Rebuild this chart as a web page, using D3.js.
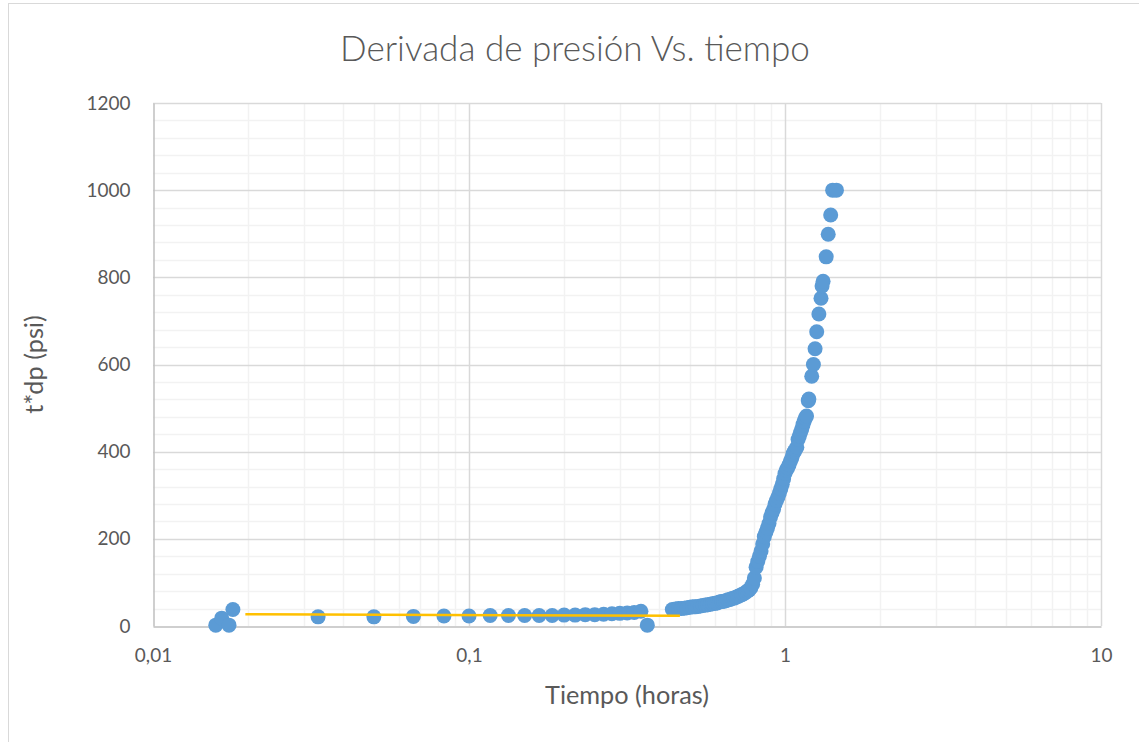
<!DOCTYPE html>
<html>
<head>
<meta charset="utf-8">
<script src="https://cdn.jsdelivr.net/npm/d3@7"></script>
<style>
  html, body { margin: 0; padding: 0; background: #ffffff; }
  svg { display: block; }
  text { font-family: Lato, "Noto Sans", sans-serif; fill: #595959; }
</style>
</head>
<body>
<svg id="chart" width="1139" height="742"></svg>
<script>
// Pressure-derivative measurements: elapsed time (hours) and t*dp (psi)
const timeHours = [
  0.0158, 0.0165, 0.0174, 0.0179,
  0.0333, 0.05, 0.0667, 0.0833, 0.1, 0.1167, 0.1333, 0.15, 0.1667, 0.1833,
  0.2, 0.2167, 0.2333, 0.25, 0.2667, 0.2833, 0.3, 0.3167, 0.3333, 0.35, 0.3667,
  0.44, 0.45, 0.46, 0.47, 0.48, 0.49, 0.50, 0.51, 0.52, 0.53, 0.54, 0.55, 0.56,
  0.57, 0.58, 0.59, 0.60, 0.61, 0.62, 0.63, 0.64, 0.65, 0.66, 0.67, 0.68, 0.69,
  0.70, 0.71, 0.72, 0.73, 0.74, 0.75, 0.76, 0.77, 0.78, 0.79, 0.80,
  0.81, 0.82, 0.83, 0.84, 0.85, 0.86, 0.87, 0.88, 0.89, 0.90, 0.91, 0.92,
  0.93, 0.94, 0.95, 0.96, 0.97, 0.98, 0.99, 1.00, 1.01, 1.02, 1.03, 1.04,
  1.05, 1.06, 1.07, 1.08, 1.09, 1.10, 1.11, 1.12, 1.13, 1.14, 1.15, 1.16, 1.17,
  1.185, 1.19, 1.215, 1.23, 1.245, 1.26, 1.28, 1.30, 1.31, 1.32, 1.35, 1.37,
  1.395, 1.415, 1.455
];
const derivPsi = [
  2, 18, 2, 38,
  21, 21, 22, 23, 23, 24, 24, 24, 24, 24,
  25, 25, 26, 26, 27, 28, 29, 30, 31, 34, 2,
  38, 39, 40, 40, 41, 42, 43, 44, 44, 45, 46, 47, 48,
  49, 50, 51, 52, 53, 55, 56, 57, 58, 60, 61, 63, 64,
  66, 68, 70, 72, 74, 77, 80, 83, 88, 96, 110,
  135, 148, 160, 172, 188, 205, 215, 225, 235, 250, 260, 268,
  280, 288, 296, 305, 315, 325, 338, 350, 358, 363, 370, 378,
  385, 395, 400, 405, 410, 428, 436, 444, 452, 462, 470, 477, 482,
  517, 521, 573, 600, 636, 675, 716, 752, 780, 791, 847, 899,
  943, 1000, 1000
];

// Straight reference line across the radial-flow plateau
const trendTime = [0.0196, 0.465];
const trendPsi = [27, 23.5];

// Axis ticks and labels
const xTickValues = [0.01, 0.1, 1, 10];
const xTickLabels = ["0,01", "0,1", "1", "10"];
const yTickValues = [0, 200, 400, 600, 800, 1000, 1200];

const svg = d3.select("#chart");
const margin = { left: 153, right: 1139 - 1101, top: 103, bottom: 742 - 626 };
const W = 1139, H = 742;
const plotW = W - margin.left - margin.right;
const plotH = H - margin.top - margin.bottom;

// Chart frame
svg.append("rect")
  .attr("x", 8.5).attr("y", 3.5)
  .attr("width", 1200).attr("height", 800)
  .attr("fill", "none").attr("stroke", "#d9d9d9").attr("stroke-width", 1);

const x = d3.scaleLog().domain([0.01, 10]).range([margin.left, margin.left + plotW]);
const y = d3.scaleLinear().domain([0, 1200]).range([margin.top + plotH, margin.top]);

const grid = svg.append("g");

// Minor gridlines
const minorX = [];
[0.01, 0.1, 1].forEach(d => { for (let k = 2; k <= 9; k++) minorX.push(d * k); });
const minorY = d3.range(40, 1201, 40).filter(v => v % 200 !== 0);

grid.selectAll(".mx").data(minorX).join("line")
  .attr("x1", d => Math.round(x(d)) + 0.5).attr("x2", d => Math.round(x(d)) + 0.5)
  .attr("y1", y(0)).attr("y2", y(1200))
  .attr("stroke", "#f2f2f2").attr("stroke-width", 1.5);
grid.selectAll(".my").data(minorY).join("line")
  .attr("x1", x(0.01)).attr("x2", x(10))
  .attr("y1", d => Math.round(y(d)) + 0.5).attr("y2", d => Math.round(y(d)) + 0.5)
  .attr("stroke", "#f2f2f2").attr("stroke-width", 1.5);

// Major gridlines
grid.selectAll(".Mx").data([0.1, 1, 10]).join("line")
  .attr("x1", d => Math.round(x(d)) + 0.5).attr("x2", d => Math.round(x(d)) + 0.5)
  .attr("y1", y(0)).attr("y2", y(1200))
  .attr("stroke", "#d9d9d9").attr("stroke-width", 1.5);
grid.selectAll(".My").data(yTickValues.filter(v => v > 0)).join("line")
  .attr("x1", x(0.01)).attr("x2", x(10))
  .attr("y1", d => Math.round(y(d)) + 0.5).attr("y2", d => Math.round(y(d)) + 0.5)
  .attr("stroke", "#d9d9d9").attr("stroke-width", 1.5);

// Axes
const xAxis = svg.append("g")
  .attr("transform", `translate(0,${Math.round(y(0)) + 0.5})`)
  .call(d3.axisBottom(x).tickValues(xTickValues)
    .tickFormat((d, i) => xTickLabels[i]).tickSize(0).tickPadding(22));
xAxis.select(".domain").attr("stroke", "#bfbfbf").attr("stroke-width", 1.5);

const yAxis = svg.append("g")
  .attr("transform", `translate(${Math.round(x(0.01)) + 0.5},0)`)
  .call(d3.axisLeft(y).tickValues(yTickValues).tickFormat(d3.format("d"))
    .tickSize(0).tickPadding(23));
yAxis.select(".domain").attr("stroke", "#bfbfbf").attr("stroke-width", 1.5);

svg.selectAll(".tick text")
  .style("font-family", "Lato, 'Noto Sans', sans-serif")
  .attr("fill", "#595959");

// Size text so its width follows the given pixel length
function fitWidth(sel, target) {
  sel.style("font-size", "100px");
  const w = sel.node().getComputedTextLength();
  const size = 100 * target / w;
  sel.style("font-size", size + "px");
  return size;
}
const probe = svg.append("text").text("1200");
const tickSize = fitWidth(probe, 44);
probe.remove();
svg.selectAll(".tick text").style("font-size", tickSize + "px");

// Data points
svg.append("g").selectAll("circle")
  .data(timeHours.map((t, i) => [t, derivPsi[i]]))
  .join("circle")
  .attr("cx", d => x(d[0]))
  .attr("cy", d => y(d[1]))
  .attr("r", 7.5)
  .attr("fill", "#5b9bd5");

// Plateau line
svg.append("path")
  .datum(trendTime.map((t, i) => [t, trendPsi[i]]))
  .attr("d", d3.line().x(d => x(d[0])).y(d => y(d[1])))
  .attr("fill", "none")
  .attr("stroke", "#ffc000")
  .attr("stroke-width", 2.5);

// Titles
const title = svg.append("text")
  .attr("x", 575).attr("y", 61)
  .attr("text-anchor", "middle")
  .style("font-weight", 300)
  .text("Derivada de presión Vs. tiempo");
fitWidth(title, 470);

const xTitle = svg.append("text")
  .attr("x", 627).attr("y", 704)
  .attr("text-anchor", "middle")
  .text("Tiempo (horas)");
const axisTitleSize = fitWidth(xTitle, 164);

svg.append("text")
  .attr("transform", `translate(43,${(y(0) + y(1200)) / 2}) rotate(-90)`)
  .attr("text-anchor", "middle")
  .style("font-size", axisTitleSize + "px")
  .text("t*dp (psi)");
</script>
</body>
</html>
